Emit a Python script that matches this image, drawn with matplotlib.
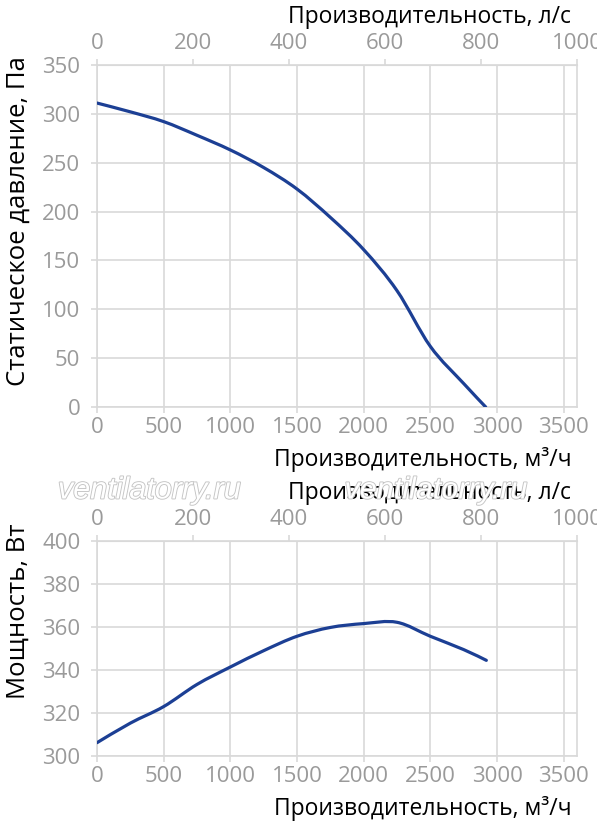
import matplotlib.pyplot as plt
import matplotlib.patheffects as pe
from matplotlib.path import Path
from matplotlib.patches import PathPatch
import numpy as np

plt.rcParams['font.family'] = ['Open Sans', 'DejaVu Sans']

# Pressure curve (m3/h, Pa)
q_press = [0, 250, 500, 750, 1000, 1250, 1500, 1750, 2000, 2250, 2500, 2750, 2915]
p_press = [311, 302, 292, 278, 263, 245, 223, 194, 161, 119, 62, 24, 0]

# Power curve (m3/h, W)
q_power = [0, 250, 500, 750, 1000, 1250, 1500, 1750, 2000, 2250, 2500, 2750, 2920]
p_power = [306.2, 315.3, 323, 333.3, 341.4, 349, 355.7, 359.8, 361.6, 362.2, 355.7, 349.5, 344.5]

x_ticks = np.arange(0, 3501, 500)
ls_ticks = np.arange(0, 1001, 200)

line_col = '#1c3f94'
grid_col = '#d9d9d9'
tick_col = '#9a9a9a'


def smooth_line(ax, xs, ys):
    # Excel-like smoothed line: cubic Bezier segments through the points
    x = np.asarray(xs, float)
    y = np.asarray(ys, float)
    verts = [(x[0], y[0])]
    codes = [Path.MOVETO]
    n = len(x)
    for i in range(n - 1):
        x0, y0 = (x[i - 1], y[i - 1]) if i > 0 else (x[i], y[i])
        x3, y3 = (x[i + 2], y[i + 2]) if i + 2 < n else (x[i + 1], y[i + 1])
        c1 = (x[i] + (x[i + 1] - x0) / 6, y[i] + (y[i + 1] - y0) / 6)
        c2 = (x[i + 1] - (x3 - x[i]) / 6, y[i + 1] - (y3 - y[i]) / 6)
        verts += [c1, c2, (x[i + 1], y[i + 1])]
        codes += [Path.CURVE4] * 3
    ax.add_patch(PathPatch(Path(verts, codes), fill=False, edgecolor=line_col,
                           linewidth=2.3, capstyle='round', zorder=3))


fig = plt.figure(figsize=(5.97, 8.23), dpi=100)
ax1 = fig.add_axes([0.1625, 0.5055, 0.804, 0.4156])
ax2 = fig.add_axes([0.1625, 0.0814, 0.804, 0.2612])


def style(ax, ylim, yticks):
    ax.set_xlim(0, 3600)
    ax.set_ylim(*ylim)
    ax.set_xticks(x_ticks)
    ax.set_yticks(yticks)
    ax.grid(True, color=grid_col, linewidth=1.2)
    ax.set_axisbelow(True)
    for s in ax.spines.values():
        s.set_color(grid_col)
        s.set_linewidth(1.2)
    ax.tick_params(colors=grid_col, labelcolor=tick_col, labelsize=16, length=4, width=1.2)
    ax.tick_params(axis='y', pad=8)
    ax.tick_params(axis='x', pad=3)
    ax.set_xlabel('Производительность, м³/ч', loc='right', fontsize=16.5, labelpad=7)
    ax.xaxis.label.set_x(0.988)
    top = ax.secondary_xaxis('top', functions=(lambda q: q / 3.6, lambda l: l * 3.6))
    top.set_xticks(ls_ticks)
    top.spines['top'].set_color(grid_col)
    top.tick_params(colors=grid_col, labelcolor=tick_col, labelsize=16, length=4, width=1.2, pad=4)
    top.set_xlabel('Производительность, л/с', loc='right', fontsize=16.5, labelpad=7)
    top.xaxis.label.set_x(0.988)


smooth_line(ax1, q_press, p_press)
style(ax1, (0, 350), np.arange(0, 351, 50))
ax1.set_ylabel('Статическое давление, Па', fontsize=18.5)
ax1.yaxis.set_label_coords(-0.138, 0.544)

smooth_line(ax2, q_power, p_power)
style(ax2, (300, 400), np.arange(300, 401, 20))
ax2.set_ylabel('Мощность, Вт', fontsize=18.5)
ax2.yaxis.set_label_coords(-0.138, 0.674)

# watermark
for xw in (0.25, 0.73):
    fig.text(xw, 0.404, 'ventilatorry.ru', ha='center', va='center', fontsize=22,
             style='italic', family='Liberation Sans', color='white', zorder=0,
             path_effects=[pe.withStroke(linewidth=1.3, foreground='#c4c4c4')])

fig.savefig('out.png', dpi=100)
